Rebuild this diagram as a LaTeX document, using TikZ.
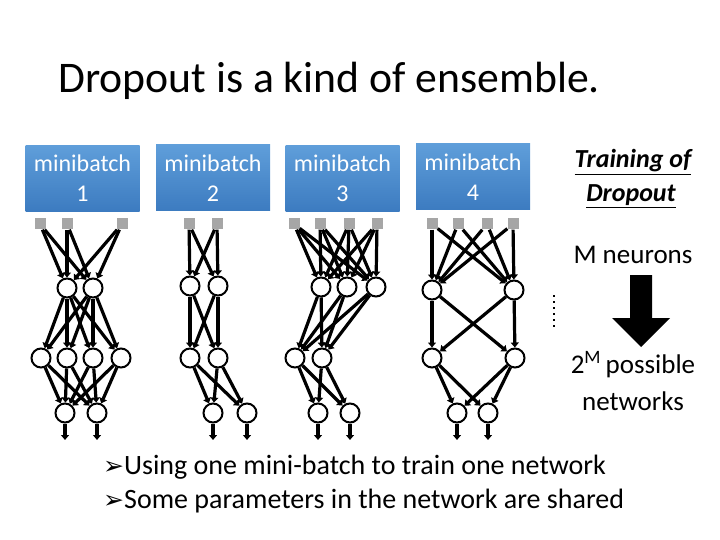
\documentclass[tikz,border=0pt]{standalone}
\usepackage{fontspec}
\setmainfont{Carlito}
\newfontfamily\dejavu{DejaVu Sans}
\usetikzlibrary{arrows.meta}
\definecolor{boxtop}{HTML}{5F9EDA}
\definecolor{boxbot}{HTML}{3C7BC0}
\definecolor{inpgray}{HTML}{A6A6A6}
\begin{document}
\begin{tikzpicture}[x=1pt,y=-1pt,
  neuron/.style={circle,draw,line width=2pt,minimum size=19pt,inner sep=0pt,fill=white},
  inp/.style={rectangle,fill=inpgray,minimum size=11pt,inner sep=0pt},
  conn/.style={line width=3.2pt,-{Triangle[length=5pt,width=8pt]}},
  mbbox/.style={rectangle,top color=boxtop,bottom color=boxbot,text=white,minimum width=114pt,minimum height=66pt,inner sep=0pt,align=center,font=\fontsize{24}{30}\selectfont},
  lbl/.style={inner sep=0pt,anchor=base},
]
\useasboundingbox (0,0) rectangle (720,540);

% title
\node[inner sep=0pt,anchor=base west,font=\fontsize{43.7}{50}\selectfont] (title) at (58,93) {Dropout is a kind of ensemble.};

% minibatch boxes
\node[mbbox] (mb1) at (82.5,178.5) {minibatch\\1};
\node[mbbox] (mb2) at (213,178) {minibatch\\2};
\node[mbbox] (mb3) at (342.5,178.5) {minibatch\\3};
\node[mbbox] (mb4) at (473,177) {minibatch\\4};

% ---------- network 1 ----------
\foreach \i/\x in {1/40,2/67,3/122} \node[inp] (a1\i) at (\x,224) {};
\foreach \i/\x in {1/67,2/93} \node[neuron] (b1\i) at (\x,288) {};
\foreach \i/\x in {1/41,2/67,3/93,4/121} \node[neuron] (c1\i) at (\x,358) {};
\foreach \i/\x in {1/65,2/97} \node[neuron] (d1\i) at (\x,413) {};
\foreach \i in {1,2,3} \foreach \j in {1,2} \draw[conn] (a1\i) -- (b1\j);
\foreach \i in {1,2} \foreach \j in {1,2,3,4} \draw[conn] (b1\i) -- (c1\j);
\foreach \i in {1,2,3,4} \foreach \j in {1,2} \draw[conn] (c1\i) -- (d1\j);

% ---------- network 2 ----------
\foreach \i/\x in {1/189,2/217} \node[inp] (a2\i) at (\x,224) {};
\foreach \i/\x in {1/190,2/218} \node[neuron] (b2\i) at (\x,286) {};
\foreach \i/\x in {1/190,2/218} \node[neuron] (c2\i) at (\x,358) {};
\foreach \i/\x in {1/213,2/247} \node[neuron] (d2\i) at (\x,413) {};
\foreach \i in {1,2} \foreach \j in {1,2} \draw[conn] (a2\i) -- (b2\j);
\foreach \i in {1,2} \foreach \j in {1,2} \draw[conn] (b2\i) -- (c2\j);
\foreach \i in {1,2} \foreach \j in {1,2} \draw[conn] (c2\i) -- (d2\j);

% ---------- network 3 ----------
\foreach \i/\x in {1/294,2/320,3/349,4/377} \node[inp] (a3\i) at (\x,224) {};
\foreach \i/\x in {1/321,2/347,3/376} \node[neuron] (b3\i) at (\x,287) {};
\foreach \i/\x in {1/295,2/322} \node[neuron] (c3\i) at (\x,358) {};
\foreach \i/\x in {1/318,2/350} \node[neuron] (d3\i) at (\x,413) {};
\foreach \i in {1,2,3,4} \foreach \j in {1,2,3} \draw[conn] (a3\i) -- (b3\j);
\foreach \i in {1,2,3} \foreach \j in {1,2} \draw[conn] (b3\i) -- (c3\j);
\foreach \i in {1,2} \foreach \j in {1,2} \draw[conn] (c3\i) -- (d3\j);

% ---------- network 4 ----------
\foreach \i/\x in {1/432,2/458,3/487,4/513} \node[inp] (a4\i) at (\x,224) {};
\foreach \i/\x in {1/432,2/514} \node[neuron] (b4\i) at (\x,290) {};
\foreach \i/\x in {1/432,2/515} \node[neuron] (c4\i) at (\x,358) {};
\foreach \i/\x in {1/457,2/488} \node[neuron] (d4\i) at (\x,413) {};
\foreach \i in {1,2,3,4} \foreach \j in {1,2} \draw[conn] (a4\i) -- (b4\j);
\foreach \i in {1,2} \foreach \j in {1,2} \draw[conn] (b4\i) -- (c4\j);
\foreach \i in {1,2} \foreach \j in {1,2} \draw[conn] (c4\i) -- (d4\j);

% output arrows
\foreach \n/\x in {1/65,2/97,3/213,4/247,5/318,6/350,7/457,8/488} \coordinate (o\n) at (\x,440);
\draw[conn] (d11) -- (o1); \draw[conn] (d12) -- (o2);
\draw[conn] (d21) -- (o3); \draw[conn] (d22) -- (o4);
\draw[conn] (d31) -- (o5); \draw[conn] (d32) -- (o6);
\draw[conn] (d41) -- (o7); \draw[conn] (d42) -- (o8);

% dotted separator
\draw[line width=2.4pt,dash pattern=on 2.4pt off 3.6pt] (554,295) -- (554,330);

% right side
\node[lbl,font=\fontsize{26}{30}\selectfont\bfseries\itshape] (tr1) at (633,168) {\underline{Training of}};
\node[lbl,font=\fontsize{26}{30}\selectfont\bfseries\itshape] (tr2) at (631,202) {\underline{Dropout}};
\node[lbl,font=\fontsize{27}{30}\selectfont] (mn) at (633,263) {M neurons};
\fill (630,275) -- (652,275) -- (652,318) -- (670,318) -- (641,347) -- (612,318) -- (630,318) -- cycle;
\node[lbl,font=\fontsize{27}{30}\selectfont] (pn1) at (633,373) {2\textsuperscript{M}\,possible};
\node[lbl,font=\fontsize{27}{30}\selectfont] (pn2) at (633,410) {networks};

% bullets
\node[inner sep=0pt,anchor=base west,font=\fontsize{28}{32}\selectfont] (bl1) at (103,474) {{\dejavu\fontsize{25}{28}\selectfont ➢}Using one mini-batch to train one network};
\node[inner sep=0pt,anchor=base west,font=\fontsize{28}{32}\selectfont] (bl2) at (103,508) {{\dejavu\fontsize{25}{28}\selectfont ➢}Some parameters in the network are shared};
\end{tikzpicture}
\end{document}
